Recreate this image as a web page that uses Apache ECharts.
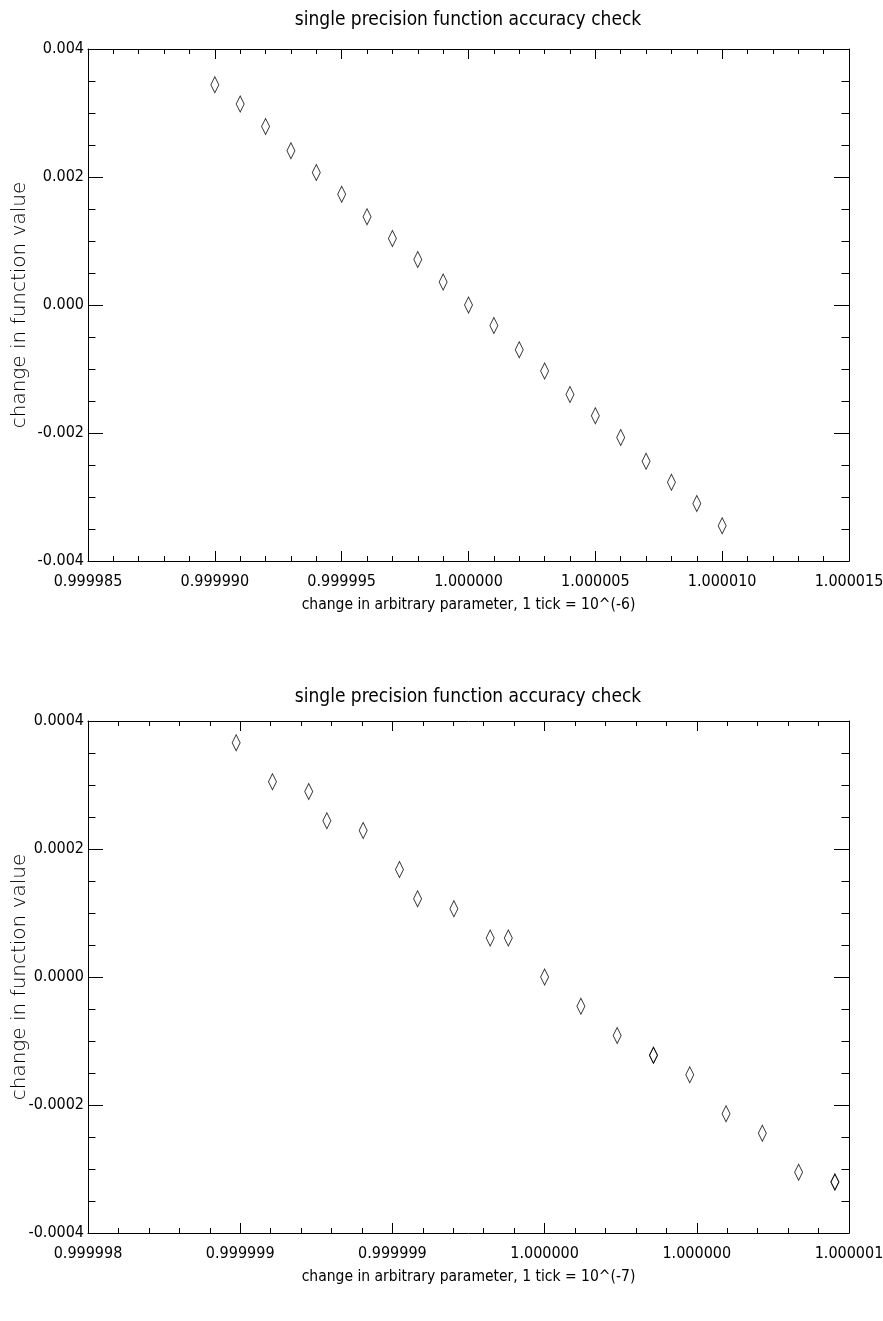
<!DOCTYPE html>
<html><head><meta charset="utf-8">
<script src="https://cdn.jsdelivr.net/npm/echarts@6/dist/echarts.min.js"></script>
<style>html,body{margin:0;padding:0;background:#fff}#c{width:883px;height:1321px}</style>
</head><body><div id="c"></div>
<script>
// ---- text ----
const titleText = 'single precision function accuracy check';
const yName = 'change in function value';
const xName1 = 'change in arbitrary parameter, 1 tick = 10^(-6)';
const xName2 = 'change in arbitrary parameter, 1 tick = 10^(-7)';
// ---- tick labels ----
const xTicks1 = ['0.999985','0.999990','0.999995','1.000000','1.000005','1.000010','1.000015'];
const yTicks1 = ['-0.004','-0.002','0.000','0.002','0.004'];
const xTicks2 = ['0.999998','0.999999','0.999999','1.000000','1.000000','1.000001'];
const yTicks2 = ['-0.0004','-0.0002','0.0000','0.0002','0.0004'];
// ---- data, panel 1 ----
const x1 = [0.99999,0.999991,0.999992,0.999993,0.999994,0.999995,0.999996,0.999997,0.999998,0.999999,1.0,
            1.000001,1.000002,1.000003,1.000004,1.000005,1.000006,1.000007,1.000008,1.000009,1.00001];
const y1 = [0.00344,0.00314,0.00279,0.00241,0.00207,0.00173,0.00138,0.00104,0.00071,0.00036,0.0,
            -0.00032,-0.00070,-0.00103,-0.00140,-0.00173,-0.00207,-0.00244,-0.00277,-0.00310,-0.00345];
// ---- data, panel 2 ----
const x2 = [0.99999898672,0.99999910593,0.99999922514,0.99999928474,0.99999940395,0.99999952316,0.99999958277,
            0.99999970198,0.99999982119,0.99999988079,1.0,1.00000011921,1.00000023842,1.00000035763,1.00000035763,
            1.00000047684,1.00000059605,1.00000071526,1.00000083447,1.00000095367,1.00000095367];
const y2 = [3.662e-4,3.052e-4,2.899e-4,2.441e-4,2.289e-4,1.678e-4,1.221e-4,1.068e-4,0.610e-4,0.610e-4,0.0,
            -0.458e-4,-0.916e-4,-1.221e-4,-1.221e-4,-1.526e-4,-2.136e-4,-2.441e-4,-3.052e-4,-3.204e-4,-3.204e-4];
// ---- axis ranges ----
const xr1 = {min:0.999985, max:1.000015, interval:0.000005};
const yr1 = {min:-0.004, max:0.004, interval:0.002};
const xr2 = {min:0.9999985, max:1.000001, interval:0.0000005};
const yr2 = {min:-0.0004, max:0.0004, interval:0.0002};

const FONT = '"DejaVu Sans Condensed","DejaVu Sans",sans-serif';
const NAMEFONT = '"DejaVu Sans",sans-serif';
const BLACK = '#000';
const G = [{left:88, top:49, width:761, height:512},{left:88, top:721, width:761, height:512}];

function pick(labels, r){ return v => { const i = Math.round((v - r.min)/r.interval); return labels[i] !== undefined ? labels[i] : ''; }; }

function xAx(grid, r, labels, name, pos){
  const main = pos === 'bottom';
  return {
    type:'value', gridIndex:grid, position:pos, min:r.min, max:r.max, interval:r.interval, scale:true,
    axisLine:{show:true, onZero:false, lineStyle:{color:BLACK, width:1}},
    axisTick:{show:true, inside:true, length:10, lineStyle:{color:BLACK, width:1}},
    minorTick:{show:true, splitNumber:5, length:5, lineStyle:{color:BLACK, width:1}},
    splitLine:{show:false}, minorSplitLine:{show:false},
    axisLabel:{show:main, margin:13, color:BLACK, fontFamily:FONT, fontSize:16, formatter:pick(labels, r), showMinLabel:true, showMaxLabel:true},
    name: main ? name : '', nameLocation:'middle', nameGap:36, nameMoveOverlap:false,
    nameTextStyle:{color:BLACK, fontFamily:FONT, fontSize:15.5}
  };
}
function yAx(grid, r, labels, pos){
  const main = pos === 'left';
  return {
    type:'value', gridIndex:grid, position:pos, min:r.min, max:r.max, interval:r.interval, scale:true,
    axisLine:{show:true, onZero:false, lineStyle:{color:BLACK, width:1}},
    axisTick:{show:true, inside:true, length:15, lineStyle:{color:BLACK, width:1}},
    minorTick:{show:true, splitNumber:4, length:7.5, lineStyle:{color:BLACK, width:1}},
    splitLine:{show:false}, minorSplitLine:{show:false},
    axisLabel:{show:main, margin:4, color:BLACK, fontFamily:FONT, fontSize:16, formatter:pick(labels, r), showMinLabel:true, showMaxLabel:true},
    name: main ? yName : '', nameLocation:'middle', nameGap:58, nameRotate:90, nameMoveOverlap:false,
    nameTextStyle:{color:BLACK, fontFamily:NAMEFONT, fontSize:20, fontWeight:200}
  };
}
function pts(xs, ys){ return xs.map((x,i)=>[x, ys[i]]); }
const marker = {symbol:'diamond', symbolSize:[8,16], itemStyle:{color:'rgba(0,0,0,0)', borderColor:BLACK, borderWidth:1}};

const chart = echarts.init(document.getElementById('c'), null, {renderer:'canvas'});
chart.setOption({
  animation:false, backgroundColor:'#fff',
  grid: G.map(g=>Object.assign({containLabel:false, outerBoundsMode:'none'}, g)),
  xAxis:[xAx(0,xr1,xTicks1,xName1,'bottom'), xAx(0,xr1,xTicks1,'','top'), xAx(1,xr2,xTicks2,xName2,'bottom'), xAx(1,xr2,xTicks2,'','top')],
  yAxis:[yAx(0,yr1,yTicks1,'left'), yAx(0,yr1,yTicks1,'right'), yAx(1,yr2,yTicks2,'left'), yAx(1,yr2,yTicks2,'right')],
  graphic:[
    {type:'text', x:468, y:20, style:{text:titleText, fill:BLACK, font:'19px '+FONT, align:'center', verticalAlign:'middle'}},
    {type:'text', x:468, y:697, style:{text:titleText, fill:BLACK, font:'19px '+FONT, align:'center', verticalAlign:'middle'}}
  ],
  series:[
    Object.assign({type:'scatter', xAxisIndex:0, yAxisIndex:0, data:pts(x1,y1)}, marker),
    Object.assign({type:'scatter', xAxisIndex:2, yAxisIndex:2, data:pts(x2,y2)}, marker)
  ]
});
</script></body></html>
